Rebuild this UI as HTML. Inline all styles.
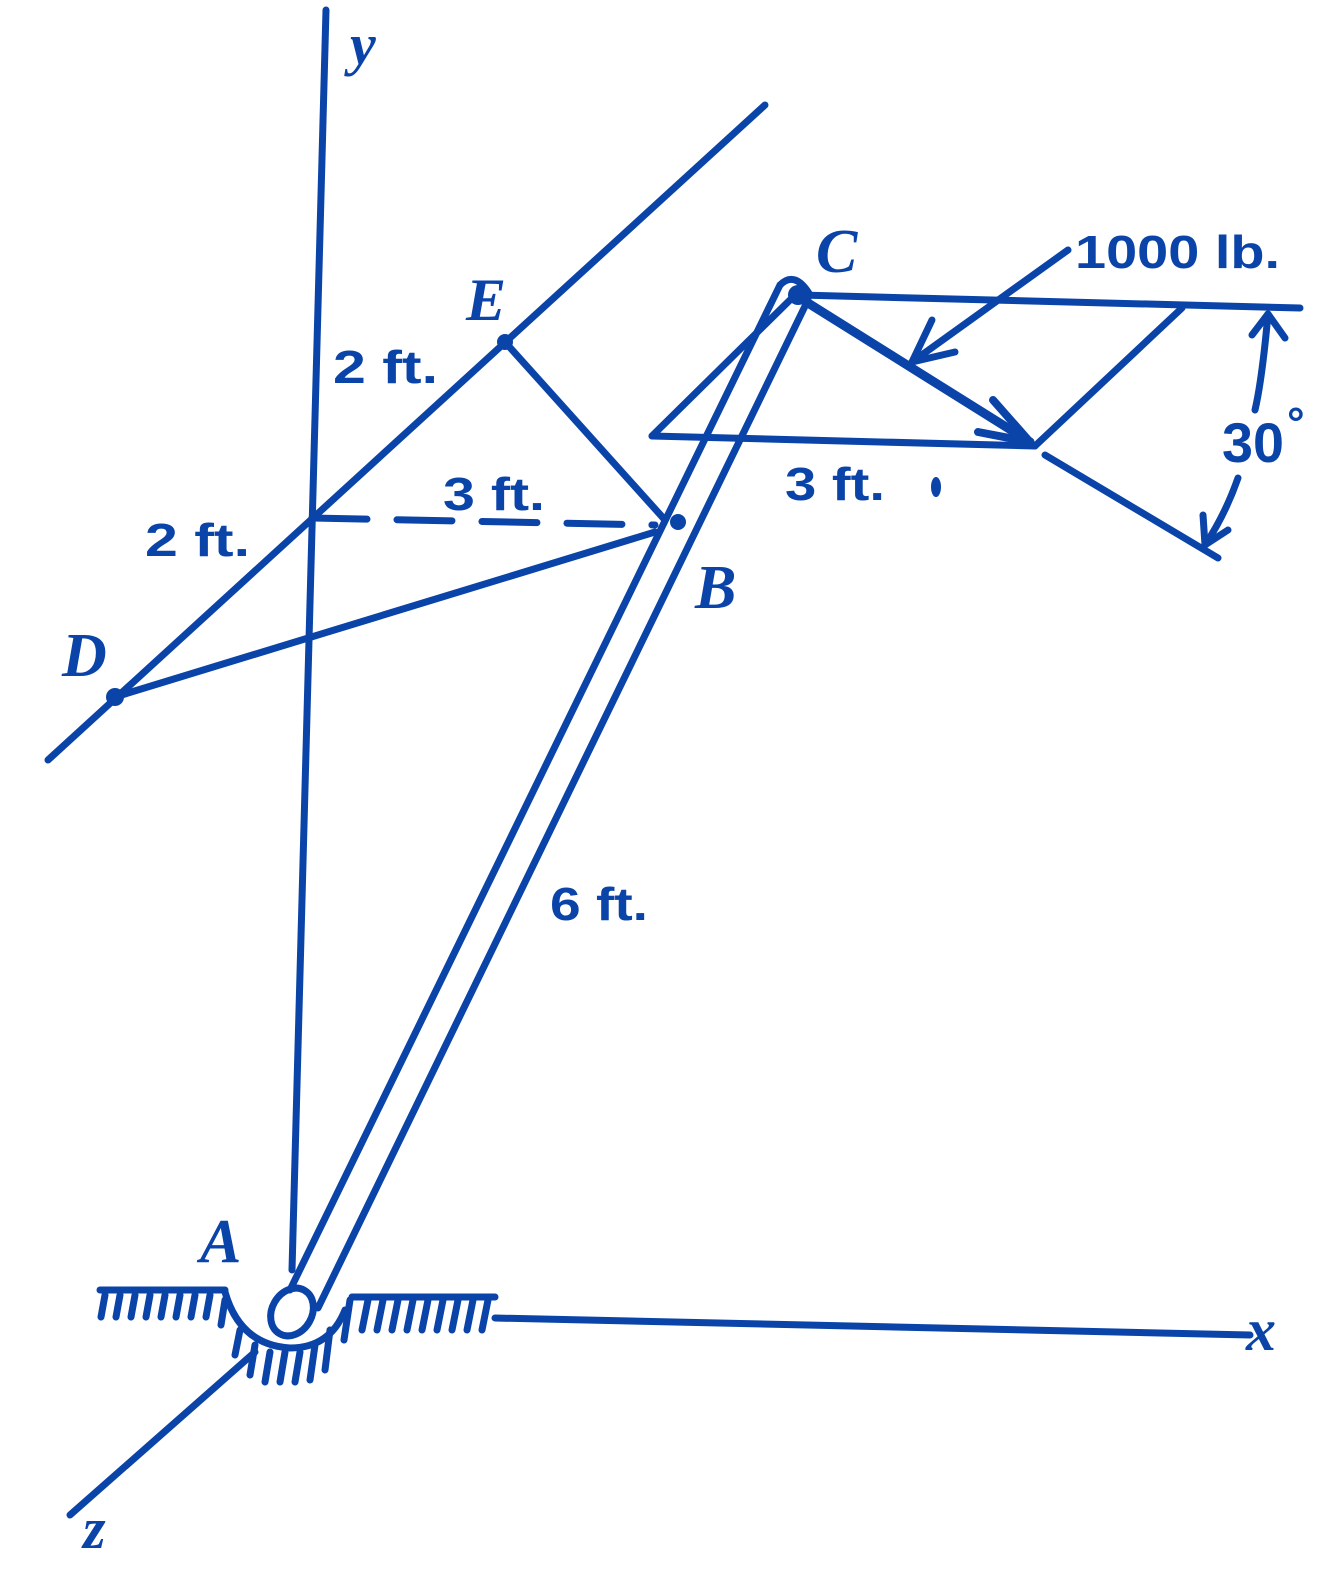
<!DOCTYPE html>
<html><head><meta charset="utf-8"><style>
html,body{margin:0;padding:0;background:#fff}
svg{display:block}
.s{font-family:"Liberation Sans",sans-serif;font-weight:bold;fill:#0a44a8}
.l{font-family:"Liberation Serif",serif;font-style:italic;font-weight:bold;fill:#0a44a8}
</style></head><body>
<svg width="1328" height="1572" viewBox="0 0 1328 1572" xmlns="http://www.w3.org/2000/svg">
<g stroke="#0a44a8" stroke-width="7" fill="none" stroke-linecap="round" stroke-linejoin="round">
<line x1="326" y1="10" x2="292" y2="1270"/>
<line x1="48" y1="760" x2="765" y2="105"/>
<line x1="505" y1="342" x2="665" y2="520"/>
<line x1="312" y1="518" x2="655" y2="525" stroke-dasharray="55,30"/>
<line x1="115" y1="697" x2="655" y2="532"/>
<line x1="290" y1="1290" x2="780" y2="285"/>
<line x1="318" y1="1308" x2="808" y2="300"/>
<path d="M780 285 Q795 270 810 295"/>
<line x1="800" y1="295" x2="1300" y2="308"/>
<line x1="652" y1="436" x2="1035" y2="446"/>
<line x1="652" y1="436" x2="790" y2="300"/>
<line x1="800" y1="298" x2="1030" y2="442" stroke-width="9"/>
<path d="M993 400 L1030 442 L978 432" stroke-width="8"/>
<line x1="1035" y1="446" x2="1182" y2="308"/>
<line x1="1068" y1="250" x2="912" y2="362"/>
<path d="M932 320 L912 362 L955 352"/>
<line x1="1045" y1="455" x2="1218" y2="558"/>
<path d="M1268 314 Q1262 380 1255 410"/>
<path d="M1252 335 L1268 314 L1285 338"/>
<path d="M1238 478 Q1225 515 1205 545"/>
<path d="M1203 515 L1205 545 L1228 530"/>
<line x1="495" y1="1318" x2="1250" y2="1335"/>
<line x1="100" y1="1290" x2="225" y2="1290"/>
<line x1="352" y1="1297" x2="495" y2="1297"/>
<path d="M225 1292 Q240 1345 290 1348 Q330 1348 345 1310"/>
<path d="M105 1295 l-4 22 M120 1295 l-4 22 M135 1295 l-4 22 M150 1295 l-4 22 M165 1295 l-4 22 M180 1295 l-4 22 M195 1295 l-4 22 M210 1295 l-4 22 M225 1300 l-4 25 M240 1330 l-5 25 M255 1345 l-5 30 M270 1352 l-5 30 M285 1352 l-5 30 M300 1352 l-5 30 M315 1345 l-5 35 M330 1330 l-5 40 M350 1300 l-6 40 M368 1300 l-6 30 M383 1300 l-6 30 M398 1300 l-6 30 M413 1300 l-6 30 M428 1300 l-6 30 M443 1300 l-6 30 M458 1300 l-6 30 M473 1300 l-6 30 M488 1300 l-6 30"/>
<line x1="70" y1="1515" x2="255" y2="1352"/>
<ellipse cx="292" cy="1312" rx="20" ry="25" transform="rotate(30 292 1312)"/>
</g>
<g fill="#0a44a8">
<circle cx="505" cy="342" r="8"/><circle cx="115" cy="697" r="9"/><circle cx="678" cy="522" r="8"/><circle cx="798" cy="295" r="10"/>
<ellipse cx="936" cy="487" rx="5" ry="10"/>
</g>
<text class="l" x="350" y="64" font-size="58">y</text>
<text class="l" x="466" y="320" font-size="60">E</text>
<text class="l" x="816" y="272" font-size="62">C</text>
<text class="s" x="1075" y="268" font-size="46" textLength="205" lengthAdjust="spacingAndGlyphs">1000 lb.</text>
<text class="s" x="333" y="383" font-size="46" textLength="105" lengthAdjust="spacingAndGlyphs">2 ft.</text>
<text class="s" x="443" y="510" font-size="46" textLength="102" lengthAdjust="spacingAndGlyphs">3 ft.</text>
<text class="s" x="145" y="556" font-size="46" textLength="105" lengthAdjust="spacingAndGlyphs">2 ft.</text>
<text class="l" x="62" y="676" font-size="62">D</text>
<text class="l" x="695" y="608" font-size="62">B</text>
<text class="s" x="785" y="500" font-size="46" textLength="100" lengthAdjust="spacingAndGlyphs">3 ft.</text>
<text class="s" x="1222" y="462" font-size="56" textLength="62" lengthAdjust="spacingAndGlyphs">30</text>
<text class="s" x="1287" y="438" font-size="44">°</text>
<text class="s" x="550" y="920" font-size="46" textLength="98" lengthAdjust="spacingAndGlyphs">6 ft.</text>
<text class="l" x="200" y="1262" font-size="62">A</text>
<text class="l" x="1246" y="1350" font-size="60">x</text>
<text class="l" x="83" y="1548" font-size="58">z</text>
</svg>
</body></html>
